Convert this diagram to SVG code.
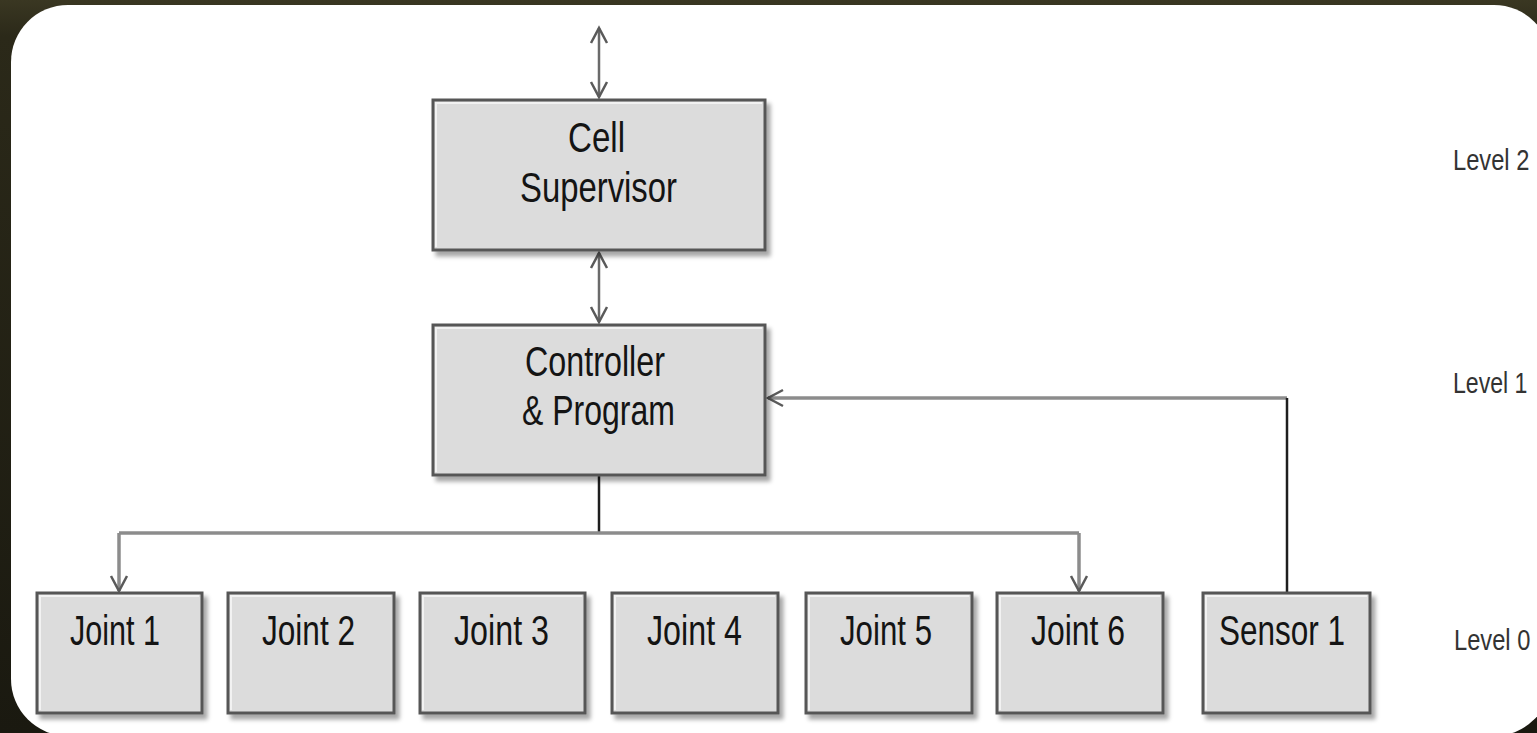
<svg xmlns="http://www.w3.org/2000/svg" width="1537" height="733" viewBox="0 0 1537 733">
  <defs>
    <style>
      .box { fill: #dcdcdc; stroke: #575757; stroke-width: 3; }
      .hl { fill: none; stroke: #f2f2f2; stroke-width: 2; }
      .lbl { font-family: "Liberation Sans", Arial, sans-serif; font-size: 42px; fill: #141414; }
      .lvl { font-family: "Liberation Sans", Arial, sans-serif; font-size: 30px; fill: #333333; }
      .gray { fill: none; stroke: #8c8c8c; stroke-width: 3.5; }
      .dark { fill: none; stroke: #1e1e1e; stroke-width: 2.5; }
      .arr { fill: none; stroke: #6a6a6a; stroke-width: 2.5; }
    </style>
    <filter id="shadow" x="-10%" y="-10%" width="130%" height="130%">
      <feDropShadow dx="4" dy="5" stdDeviation="2" flood-color="#000000" flood-opacity="0.35"/>
    </filter>
    <marker id="head" markerUnits="userSpaceOnUse" viewBox="-17 -10 20 20" refX="0" refY="0" markerWidth="20" markerHeight="20" orient="auto-start-reverse">
      <path d="M-15,-8 L0,0 L-15,8" fill="none" stroke="#5a5a5a" stroke-width="2.5"/>
    </marker>
    <linearGradient id="bg" x1="0" y1="0" x2="0" y2="1">
      <stop offset="0" stop-color="#3a3722"/>
      <stop offset="0.05" stop-color="#2b2919"/>
      <stop offset="1" stop-color="#1a1910"/>
    </linearGradient>
  </defs>

  <rect x="0" y="0" width="1537" height="733" fill="url(#bg)"/>
  <rect x="11" y="5" width="1540" height="731" rx="57" ry="57" fill="#ffffff"/>

  <g id="connectors">
    <line class="arr" x1="599" y1="28" x2="599" y2="97" marker-start="url(#head)" marker-end="url(#head)"/>
    <line class="arr" x1="599" y1="253" x2="599" y2="322" marker-start="url(#head)" marker-end="url(#head)"/>
    <polyline class="gray" points="1287,398 768,398"/>
    <polyline class="dark" points="1287,593 1287,398"/>
    <line x1="768" y1="398" x2="769" y2="398" stroke="#333" stroke-width="2" marker-start="url(#head)"/>
    <line class="dark" x1="599" y1="475" x2="599" y2="533"/>
    <line class="gray" x1="119" y1="533" x2="1079" y2="533"/>
    <line class="gray" x1="119" y1="533" x2="119" y2="591" marker-end="url(#head)"/>
    <line class="gray" x1="1079" y1="533" x2="1079" y2="591" marker-end="url(#head)"/>
  </g>

  <g id="cell-supervisor">
    <rect class="box" x="433" y="100" width="332" height="150" filter="url(#shadow)"/>
    <polyline class="hl" points="436,247 436,103 762,103"/>
    <text class="lbl" x="568" y="152" textLength="57" lengthAdjust="spacingAndGlyphs">Cell</text>
    <text class="lbl" x="520" y="202" textLength="157" lengthAdjust="spacingAndGlyphs">Supervisor</text>
  </g>

  <g id="controller-program">
    <rect class="box" x="433" y="325" width="332" height="150" filter="url(#shadow)"/>
    <polyline class="hl" points="436,472 436,328 762,328"/>
    <text class="lbl" x="525" y="376" textLength="140" lengthAdjust="spacingAndGlyphs">Controller</text>
    <text class="lbl" x="522" y="425" textLength="153" lengthAdjust="spacingAndGlyphs">&amp; Program</text>
  </g>

  <g id="joint1">
    <rect class="box" x="37" y="593" width="165" height="120" filter="url(#shadow)"/>
    <polyline class="hl" points="40,710 40,596 199,596"/>
    <text class="lbl" x="70" y="645" textLength="90" lengthAdjust="spacingAndGlyphs">Joint 1</text>
  </g>
  <g id="joint2">
    <rect class="box" x="228" y="593" width="166" height="120" filter="url(#shadow)"/>
    <polyline class="hl" points="231,710 231,596 391,596"/>
    <text class="lbl" x="262" y="645" textLength="93" lengthAdjust="spacingAndGlyphs">Joint 2</text>
  </g>
  <g id="joint3">
    <rect class="box" x="420" y="593" width="165" height="120" filter="url(#shadow)"/>
    <polyline class="hl" points="423,710 423,596 582,596"/>
    <text class="lbl" x="454" y="645" textLength="95" lengthAdjust="spacingAndGlyphs">Joint 3</text>
  </g>
  <g id="joint4">
    <rect class="box" x="612" y="593" width="166" height="120" filter="url(#shadow)"/>
    <polyline class="hl" points="615,710 615,596 775,596"/>
    <text class="lbl" x="647" y="645" textLength="95" lengthAdjust="spacingAndGlyphs">Joint 4</text>
  </g>
  <g id="joint5">
    <rect class="box" x="806" y="593" width="166" height="120" filter="url(#shadow)"/>
    <polyline class="hl" points="809,710 809,596 969,596"/>
    <text class="lbl" x="840" y="645" textLength="92" lengthAdjust="spacingAndGlyphs">Joint 5</text>
  </g>
  <g id="joint6">
    <rect class="box" x="997" y="593" width="166" height="120" filter="url(#shadow)"/>
    <polyline class="hl" points="1000,710 1000,596 1160,596"/>
    <text class="lbl" x="1031" y="645" textLength="94" lengthAdjust="spacingAndGlyphs">Joint 6</text>
  </g>
  <g id="sensor1">
    <rect class="box" x="1203" y="593" width="167" height="120" filter="url(#shadow)"/>
    <polyline class="hl" points="1206,710 1206,596 1367,596"/>
    <text class="lbl" x="1219" y="645" textLength="126" lengthAdjust="spacingAndGlyphs">Sensor 1</text>
  </g>

  <g id="levels">
    <text class="lvl" transform="translate(1453,170) scale(0.79,1)" x="0" y="0">Level 2</text>
    <text class="lvl" transform="translate(1453,393) scale(0.77,1)" x="0" y="0">Level 1</text>
    <text class="lvl" transform="translate(1454,650) scale(0.79,1)" x="0" y="0">Level 0</text>
  </g>
</svg>
